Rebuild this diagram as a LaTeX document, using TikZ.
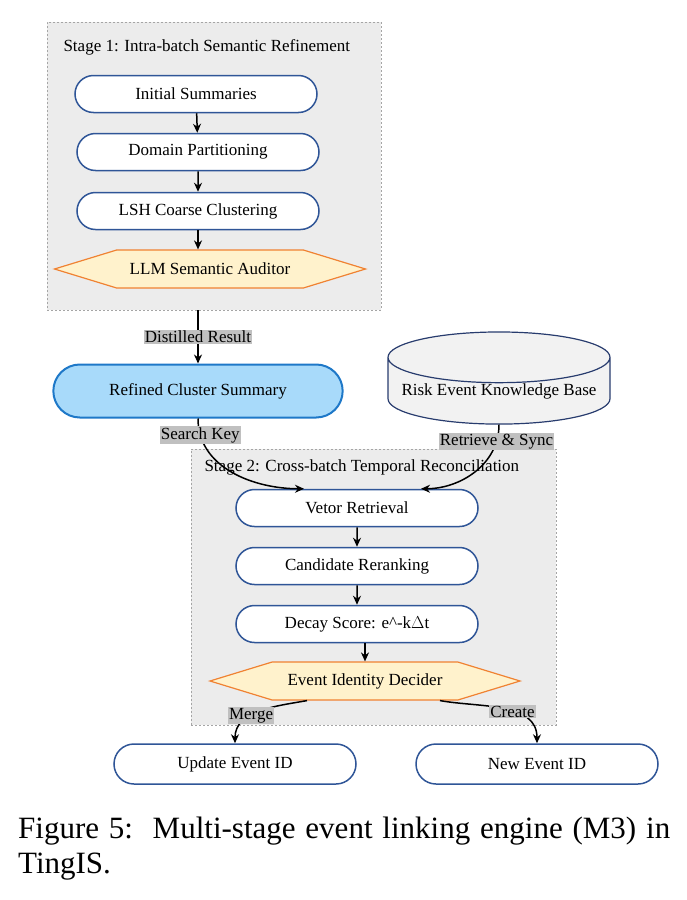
\documentclass[tikz,border=0pt]{standalone}
\usepackage{fontspec}
\setmainfont{Liberation Serif}
\usetikzlibrary{arrows.meta,shapes.misc,shapes.geometric,shapes.symbols,calc}

\definecolor{pillblue}{RGB}{47,85,151}
\definecolor{hexfill}{RGB}{255,242,204}
\definecolor{hexline}{RGB}{240,130,50}
\definecolor{refinedfill}{RGB}{168,218,250}
\definecolor{refinedline}{RGB}{30,120,200}
\definecolor{dbline}{RGB}{40,60,110}
\definecolor{dbfill}{RGB}{242,242,242}
\definecolor{tagfill}{RGB}{192,192,192}
\definecolor{stagefill}{RGB}{236,236,236}
\definecolor{stageline}{RGB}{165,165,165}

\begin{document}
\begin{tikzpicture}[x=1pt, y=-1pt,
  every node/.style={font=\fontsize{17}{20}\selectfont},
  stagebox/.style={draw=stageline, fill=stagefill, line width=0.8pt, dash pattern=on 2pt off 2pt},
  pill/.style={rounded rectangle, draw=pillblue, line width=1.5pt, fill=white, minimum width=242pt, minimum height=37pt, inner sep=0pt},
  decider/.style={signal, signal to=west and east, signal pointer angle=34, draw=hexline, line width=1.2pt, fill=hexfill, minimum width=311pt, minimum height=38pt, inner sep=0pt},
  tag/.style={fill=tagfill, inner sep=1pt},
  flow/.style={-{Stealth[length=9pt, width=8pt]}, line width=1.5pt}
]
\useasboundingbox (0,0) rectangle (687,900);

% stage containers
\node[stagebox, minimum width=334pt, minimum height=288pt] (stage1) at (214,166) {};
\node[anchor=west] (title1) at (60,47) {Stage 1: Intra-batch Semantic Refinement};
\node[stagebox, minimum width=365pt, minimum height=276pt] (stage2) at (373.5,587) {};
\node[anchor=west] (title2) at (201,467) {Stage 2: Cross-batch Temporal Reconciliation};

% stage 1 column
\node[pill] (init) at (196,94) {Initial Summaries};
\node[pill] (domain) at (198,152) {Domain Partitioning};
\node[pill] (lsh) at (198,211) {LSH Coarse Clustering};
\node[decider] (auditor) at (210,269) {LLM Semantic Auditor};

\draw[flow] (init) -- (domain);
\draw[flow] (domain) -- (lsh);
\draw[flow] (lsh.south) -- (lsh.south |- auditor.north);

% middle row
\node[rounded rectangle, draw=refinedline, line width=2pt, fill=refinedfill, minimum width=296pt, minimum height=53pt] (refined) at (198,391) {Refined Cluster Summary};
\node[cylinder, shape border rotate=90, aspect=0.26, draw=dbline, line width=1.2pt, fill=dbfill, minimum width=222pt, minimum height=82pt, inner sep=0pt] (kb) at (499,391) {Risk Event Knowledge Base};

\draw[flow] (stage1.south -| refined.north) -- node[tag] {Distilled Result} (refined.north);

% stage 2 column
\node[pill] (vetor) at (357,508) {Vetor Retrieval};
\node[pill] (rerank) at (357,566) {Candidate Reranking};
\node[pill] (decay) at (357,624) {Decay Score: e\^{}-k$\Delta$t};
\node[decider, minimum width=310pt] (identity) at (365,681) {Event Identity Decider};

\draw[flow] (refined.south) to[out=-90, in=180] node[tag, pos=0.12] {Search Key} ($(vetor.north)+(-53,0)$);
\draw[flow] (kb.south) to[out=-90, in=0] node[tag, pos=0.15] {Retrieve \& Sync} ($(vetor.north)+(64,0)$);
\draw[flow] (vetor) -- (rerank);
\draw[flow] (rerank) -- (decay);
\draw[flow] (decay.south -| identity.north) -- (identity.north);

% outcomes
\node[pill, minimum height=40pt] (update) at (235,764) {Update Event ID};
\node[pill, minimum height=40pt] (newid) at (537,764) {New Event ID};

\draw[flow] ($(identity.south)+(-58,0)$) to[out=190, in=90] node[tag, pos=0.6] {Merge} (update.north);
\draw[flow] ($(identity.south)+(75,0)$) to[out=-10, in=90] node[tag, pos=0.58] {Create} (newid.north);

% caption
\node[anchor=north west, text width=652pt, align=justify, inner sep=0pt, font=\fontsize{31}{35}\selectfont] (caption) at (18,817)
  {Figure 5:\ \ Multi-stage event linking engine (M3) in\linebreak TingIS.};
\end{tikzpicture}
\end{document}
